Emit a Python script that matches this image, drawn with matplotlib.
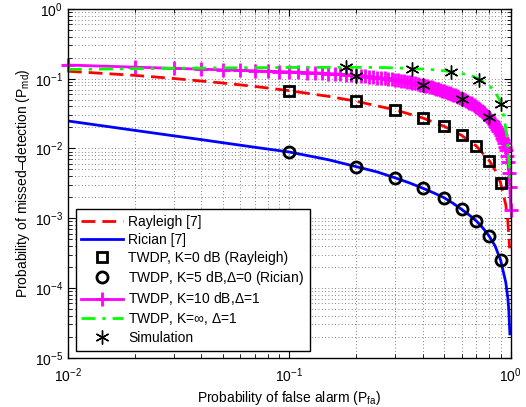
import numpy as np
import matplotlib
matplotlib.use('Agg')
import matplotlib.pyplot as plt
from matplotlib.ticker import LogLocator, NullFormatter

plt.rcParams['font.family'] = ['Liberation Sans', 'DejaVu Sans']
plt.rcParams['mathtext.fontset'] = 'custom'
plt.rcParams['mathtext.rm'] = 'Liberation Sans'
plt.rcParams['mathtext.it'] = 'Liberation Sans:italic'
plt.rcParams['font.size'] = 10

# Rayleigh [7] analytical curve
pfa_ray = [0.01, 0.02, 0.03, 0.05, 0.07, 0.1, 0.15, 0.2, 0.3, 0.4, 0.5, 0.6,
           0.7, 0.8, 0.85, 0.9, 0.95, 0.97, 0.988]
pmd_ray = [0.128, 0.1118, 0.1008, 0.0868, 0.0774, 0.0674, 0.0559, 0.0476, 0.0358,
           0.0274, 0.0208, 0.0154, 0.0108, 0.0067, 0.0049, 0.0032, 0.00155,
           0.00092, 0.00037]

# Rician [7] analytical curve
pfa_ric = [0.01, 0.015, 0.02, 0.03, 0.04, 0.05, 0.07, 0.1, 0.15, 0.2, 0.25, 0.3,
           0.35, 0.4, 0.45, 0.5, 0.55, 0.6, 0.65, 0.7, 0.75, 0.8, 0.85, 0.9,
           0.95, 0.97, 0.98, 0.991]
pmd_ric = [0.0248, 0.0207, 0.0182, 0.0152, 0.0134, 0.0121, 0.0104, 0.0089, 0.0069,
           0.0055, 0.0046, 0.0038, 0.0032, 0.0027, 0.0023, 0.00197, 0.00163,
           0.00134, 0.00111, 0.00091, 0.00072, 0.00055, 0.00040, 0.00025,
           0.000120, 0.000072, 0.000048, 0.000022]

# TWDP markers
pfa_mk = [0.1, 0.2, 0.3, 0.4, 0.5, 0.6, 0.7, 0.8, 0.9]
pmd_k0 = [0.0674, 0.0476, 0.0358, 0.0274, 0.021, 0.0155, 0.0109, 0.0067, 0.00324]
pmd_k5 = [0.0089, 0.0055, 0.0038, 0.0027, 0.00197, 0.00134, 0.00091, 0.00055, 0.00025]

# TWDP K=10 dB, Delta=1 (sampled every 0.01)
pfa_k10 = np.round(np.arange(0.01, 1.001, 0.01), 2)
pmd_k10 = [0.1570, 0.1466, 0.1409, 0.1370, 0.1341, 0.1317, 0.1298, 0.1280, 0.1265, 0.1253,
           0.1240, 0.1226, 0.1213, 0.1200, 0.1186, 0.1173, 0.1160, 0.1146, 0.1133, 0.1120,
           0.1104, 0.1088, 0.1072, 0.1056, 0.1040, 0.1024, 0.1008, 0.0992, 0.0976, 0.0960,
           0.0945, 0.0930, 0.0915, 0.0900, 0.0885, 0.0870, 0.0855, 0.0840, 0.0825, 0.0810,
           0.0795, 0.0780, 0.0765, 0.0750, 0.0735, 0.0720, 0.0705, 0.0690, 0.0675, 0.0660,
           0.0646, 0.0632, 0.0618, 0.0604, 0.0590, 0.0576, 0.0562, 0.0548, 0.0534, 0.0520,
           0.0507, 0.0494, 0.0481, 0.0468, 0.0455, 0.0442, 0.0429, 0.0416, 0.0403, 0.0390,
           0.0378, 0.0366, 0.0354, 0.0342, 0.0330, 0.0318, 0.0306, 0.0294, 0.0282, 0.0270,
           0.0259, 0.0247, 0.0236, 0.0224, 0.0213, 0.0201, 0.0190, 0.0178, 0.0167, 0.0155,
           0.0143, 0.0131, 0.0119, 0.0106, 0.0094, 0.0078, 0.0064, 0.0045, 0.0028, 0.0013]

# TWDP K=inf, Delta=1
pfa_kinf = [0.01, 0.02, 0.05, 0.1, 0.18, 0.25, 0.3, 0.36, 0.43, 0.5, 0.54, 0.6, 0.66,
            0.72, 0.8, 0.85, 0.9, 0.92, 0.94, 0.96, 0.98, 0.99, 0.995]
pmd_kinf = [0.136, 0.139, 0.143, 0.145, 0.146, 0.145, 0.143, 0.140, 0.136, 0.130, 0.126,
            0.119, 0.111, 0.099, 0.080, 0.065, 0.046, 0.034, 0.024, 0.015, 0.0078,
            0.0045, 0.0028]

# simulation points
pfa_sim = [0.18, 0.36, 0.54, 0.72, 0.9, 0.2, 0.4, 0.6, 0.8]
pmd_sim = [0.145, 0.137, 0.126, 0.095, 0.044, 0.109, 0.081, 0.052, 0.0278]

fig = plt.figure(figsize=(5.26, 4.07), dpi=100)
ax = fig.add_axes([0.129, 0.121, 0.842, 0.857])

star = (6, 2, 0)
h1, = ax.loglog(pfa_ray, pmd_ray, '--', color='r', lw=2, dashes=(5, 2.5), label='Rayleigh [7]')
h2, = ax.loglog(pfa_ric, pmd_ric, '-', color='b', lw=2, label='Rician [7]')
h5, = ax.loglog(pfa_k10, pmd_k10, '-', color='#ff00ff', lw=2, marker='+', ms=10, mew=2,
                clip_on=False, label=r'TWDP, K=10 dB,$\Delta$=1')
h6, = ax.loglog(pfa_kinf, pmd_kinf, '-.', color=(0, 1, 0), lw=2, dashes=(5, 2.5, 1.2, 2.5),
                label=r'TWDP, K=$\infty$, $\Delta$=1')
h3, = ax.loglog(pfa_mk, pmd_k0, 's', ls='none', mfc='none', mec='k', ms=7, mew=2,
                label='TWDP, K=0 dB (Rayleigh)')
h4, = ax.loglog(pfa_mk, pmd_k5, 'o', ls='none', mfc='none', mec='k', ms=8, mew=2,
                label=r'TWDP, K=5 dB,$\Delta$=0 (Rician)')
h7, = ax.loglog(pfa_sim, pmd_sim, ls='none', marker=star, color='k', ms=10, mew=1,
                label='Simulation')

ax.set_xlim(1e-2, 1)
ax.set_ylim(1e-5, 1)
ax.xaxis.set_major_locator(LogLocator(base=10, numticks=10))
ax.yaxis.set_major_locator(LogLocator(base=10, numticks=10))
ax.xaxis.set_minor_locator(LogLocator(base=10, subs=np.arange(2, 10), numticks=20))
ax.yaxis.set_minor_locator(LogLocator(base=10, subs=np.arange(2, 10), numticks=20))
ax.xaxis.set_minor_formatter(NullFormatter())
ax.yaxis.set_minor_formatter(NullFormatter())
ax.tick_params(which='both', direction='in', top=True, right=True, labelsize=10)
ax.tick_params(which='major', length=5, width=0.8)
ax.tick_params(which='minor', length=3, width=0.6)
ax.tick_params(axis='x', which='major', pad=6)
ax.grid(True, which='both', color='0.35', ls=(0, (1, 3)), lw=0.6)
for s in ax.spines.values():
    s.set_linewidth(1.0)

ax.set_xlabel(r'Probability of false alarm (P$_{\rm fa}$)', labelpad=3)
ax.set_ylabel('Probability of missed\u2013detection (P$_{\\rm md}$)', labelpad=2)

leg = ax.legend([h1, h2, h3, h4, h5, h6, h7],
                [h.get_label() for h in [h1, h2, h3, h4, h5, h6, h7]],
                loc='lower left', bbox_to_anchor=(0.018, 0.02), borderaxespad=0,
                fancybox=False, framealpha=1, edgecolor='k', numpoints=1,
                handlelength=3.0, handletextpad=0.35, labelspacing=0.28, fontsize=10)
leg.get_frame().set_linewidth(1.0)

fig.savefig('out.png', dpi=100)
